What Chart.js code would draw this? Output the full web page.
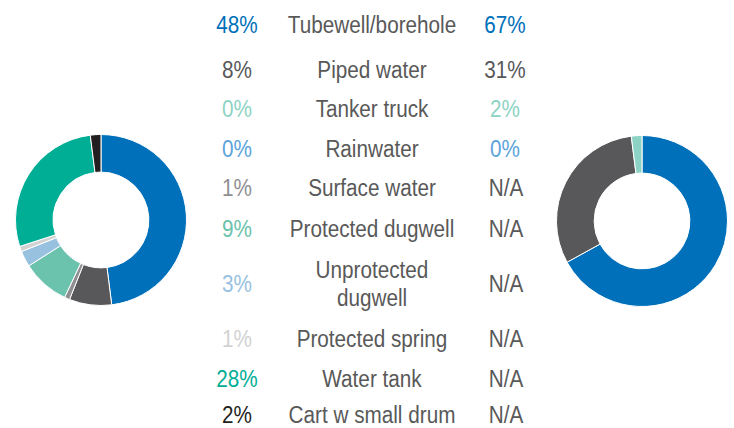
<!DOCTYPE html>
<html>
<head>
<meta charset="utf-8">
<script src="https://cdn.jsdelivr.net/npm/chart.js@4/dist/chart.umd.min.js"></script>
<style>
  html, body { margin: 0; padding: 0; background: #fff; }
  #wrap { position: relative; width: 734px; height: 428px; overflow: hidden; font-family: "Liberation Sans", Arial, sans-serif; }
  .box { position: absolute; width: 172px; height: 172px; }
  .cell { position: absolute; transform: translate(-50%, -50%) scaleX(0.9); text-align: center; font-size: 23px; line-height: 20px; white-space: nowrap; color: #595959; }
  .cell.two { line-height: 28px; }
</style>
</head>
<body>
<div id="wrap">
  <div class="box" style="left:15px; top:134px;"><canvas id="leftChart"></canvas></div>
  <div class="box" style="left:556px; top:135px;"><canvas id="rightChart"></canvas></div>
</div>
<script>
var categories = ['Tubewell/borehole', 'Piped water', 'Tanker truck', 'Rainwater', 'Surface water',
    'Protected dugwell', 'Unprotected\ndugwell', 'Protected spring', 'Water tank', 'Cart w small drum'];
var leftValues = [48, 8, 0, 0, 1, 9, 3, 1, 28, 2];
var rightValues = [67, 31, 2, 0, null, null, null, null, null, null]; // null = N/A
var colors = ['#0070BA', '#58585A', '#8DD3C5', '#5BA4DA', '#8F8F91', '#6BC2AD', '#97C1DF', '#D2D2D2', '#00AE95', '#231F20'];
var rowY = [25, 70, 109, 149, 188, 229, 284, 339, 379, 415];

// table in the middle
var wrap = document.getElementById('wrap');
function addCell(x, y, text, color) {
    var d = document.createElement('div');
    d.className = text.indexOf('\n') >= 0 ? 'cell two' : 'cell';
    d.style.left = x + 'px';
    d.style.top = y + 'px';
    d.style.color = color;
    d.innerHTML = text.replace('\n', '<br>');
    wrap.appendChild(d);
}
categories.forEach(function(cat, i) {
    addCell(237, rowY[i], leftValues[i] + '%', colors[i]);
    addCell(372, rowY[i], cat, '#595959');
    if (rightValues[i] === null) {
        addCell(506, rowY[i], 'N/A', '#595959');
    } else {
        addCell(505, rowY[i], rightValues[i] + '%', colors[i]);
    }
});

function makeDonut(id, values) {
    var ctx = document.getElementById(id).getContext('2d');
    return new Chart(ctx, {
        type: 'doughnut',
        data: {
            labels: categories,
            datasets: [{
                data: values.map(function(v) { return v === null ? 0 : v; }),
                backgroundColor: colors,
                borderColor: '#ffffff',
                borderWidth: 1
            }]
        },
        options: {
            responsive: true,
            maintainAspectRatio: false,
            animation: false,
            cutout: '56%',
            layout: { padding: 0 },
            plugins: {
                legend: { display: false },
                tooltip: { enabled: false }
            }
        }
    });
}

var leftChart = makeDonut('leftChart', leftValues);
var rightChart = makeDonut('rightChart', rightValues);
</script>
</body>
</html>
